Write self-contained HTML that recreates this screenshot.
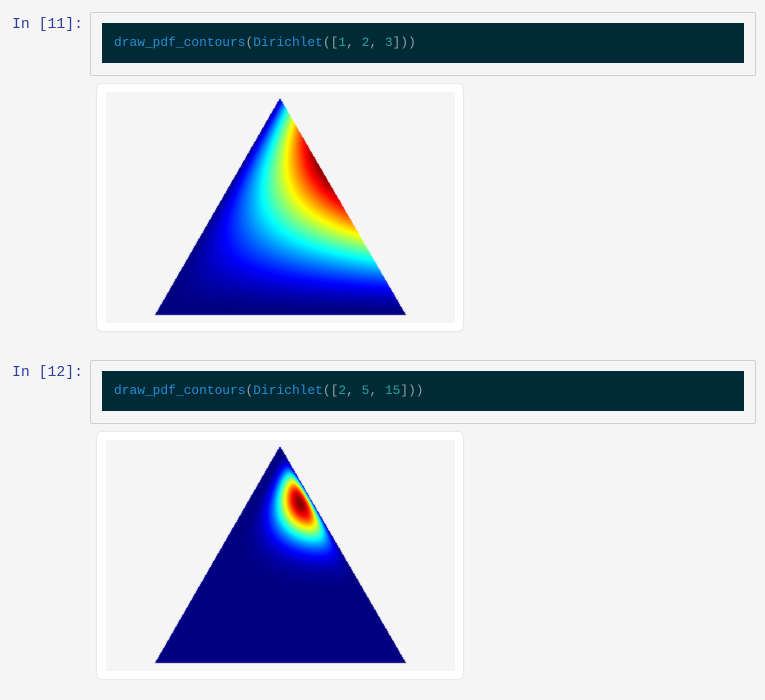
<!DOCTYPE html>
<html><head><meta charset="utf-8"><style>
body{margin:0;width:765px;height:700px;background:#f5f5f5;position:relative;overflow:hidden;font-family:"Liberation Mono",monospace}
.prompt{position:absolute;left:12px;color:#303f9f;font-size:14.8px}
.incell{position:absolute;left:90px;width:664px;height:62px;background:#f5f5f5;border:1px solid #cfcfcf;border-radius:2px}
.code{position:absolute;left:11px;top:10px;width:642px;height:40px;background:#002b36;color:#93a1a1;font-size:12.9px;line-height:40px;padding-left:12px;box-sizing:border-box}
.fn{color:#268bd2}.num{color:#2aa198}
.card{position:absolute;left:97px;width:366px;height:247px;background:#fff;border-radius:5px;box-shadow:0 0 2px rgba(0,0,0,.15)}
.plot{position:absolute;left:9px;top:8px;width:349px;height:231px;background:#f5f5f5}
canvas{position:absolute;left:0;top:0}
</style></head><body>
<div class="prompt" style="top:17px">In [11]:</div>
<div class="incell" style="top:12px">
 <div class="code"><span class="fn">draw_pdf_contours</span>(<span class="fn">Dirichlet</span>([<span class="num">1</span>, <span class="num">2</span>, <span class="num">3</span>]))</div>
</div>
<div class="card" style="top:84px">
 <div class="plot"><canvas id="c1" width="349" height="231"></canvas></div>
</div>
<div class="prompt" style="top:365px">In [12]:</div>
<div class="incell" style="top:360px">
 <div class="code"><span class="fn">draw_pdf_contours</span>(<span class="fn">Dirichlet</span>([<span class="num">2</span>, <span class="num">5</span>, <span class="num">15</span>]))</div>
</div>
<div class="card" style="top:432px">
 <div class="plot"><canvas id="c2" width="349" height="231"></canvas></div>
</div>
<script>
const alpha1 = [1, 2, 3];
const alpha2 = [2, 5, 15];
// triangle corners within plot (local px): bottom-left, bottom-right, apex
const A = [49, 223], B = [300, 223], C = [174, 6];
function jet(v){
  function f(x){return Math.max(0,Math.min(1,x));}
  const r=f(1.5-Math.abs(4*v-3)), g=f(1.5-Math.abs(4*v-2)), b=f(1.5-Math.abs(4*v-1));
  return [r*255,g*255,b*255];
}
function draw(id, alpha){
  const cv=document.getElementById(id), ctx=cv.getContext('2d');
  const W=cv.width,H=cv.height, img=ctx.createImageData(W,H);
  const det=(B[1]-C[1])*(A[0]-C[0])+(C[0]-B[0])*(A[1]-C[1]);
  const vals=new Float32Array(W*H).fill(-1); let mx=0;
  for(let y=0;y<H;y++)for(let x=0;x<W;x++){
    const px=x+0.5,py=y+0.5;
    const l1=((B[1]-C[1])*(px-C[0])+(C[0]-B[0])*(py-C[1]))/det;
    const l2=((C[1]-A[1])*(px-C[0])+(A[0]-C[0])*(py-C[1]))/det;
    const l3=1-l1-l2;
    if(l1<0||l2<0||l3<0)continue;
    const b=[l1,l2,l3].map(v=>Math.max(v,1e-4));
    let lp=0; for(let i=0;i<3;i++)lp+=(alpha[i]-1)*Math.log(b[i]);
    const v=Math.exp(lp); vals[y*W+x]=v; if(v>mx)mx=v;
  }
  for(let i=0;i<W*H;i++){
    if(vals[i]<0)continue;
    const t=Math.floor(Math.pow(vals[i]/mx,0.85)*199)/199;
    const c=jet(t);
    img.data[i*4]=c[0];img.data[i*4+1]=c[1];img.data[i*4+2]=c[2];img.data[i*4+3]=255;
  }
  ctx.putImageData(img,0,0);
}
draw('c1',alpha1);
draw('c2',alpha2);
</script>
</body></html>
